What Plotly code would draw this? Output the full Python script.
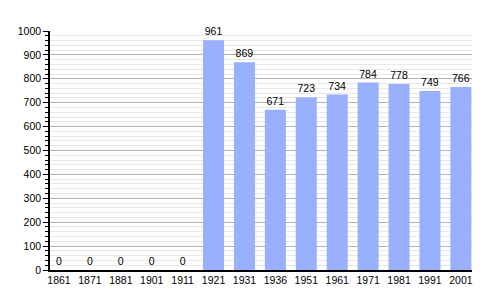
import plotly.graph_objects as go

years = ["1861", "1871", "1881", "1901", "1911", "1921", "1931", "1936",
         "1951", "1961", "1971", "1981", "1991", "2001"]
population = [0, 0, 0, 0, 0, 961, 869, 671, 723, 734, 784, 778, 749, 766]
y_ticks = list(range(0, 1001, 100))

fig = go.Figure(go.Bar(
    x=years, y=population,
    text=[str(v) for v in population],
    textposition="outside",
    textfont=dict(family="Liberation Sans, Arial", size=10.5, color="black"),
    marker=dict(color="#99b0ff", line=dict(width=0)),
    width=0.68,
    cliponaxis=False,
))

fig.update_layout(
    width=500, height=300,
    margin=dict(l=50, r=28, t=31, b=30),
    paper_bgcolor="white", plot_bgcolor="white",
    font=dict(family="Liberation Sans, Arial", size=10.5, color="black"),
    showlegend=False,
    xaxis=dict(
        type="category", range=[-0.29, 13.36],
        showline=True, linecolor="black", linewidth=1.5,
        ticks="", showgrid=False, tickfont=dict(size=10.5),
    ),
    yaxis=dict(
        range=[0, 1000], tickvals=y_ticks,
        showline=True, linecolor="black", linewidth=1.5,
        ticks="outside", ticklen=5, tickcolor="black",
        showgrid=True, gridcolor="#b4b4b4", gridwidth=1,
        zeroline=False, tickfont=dict(size=10.5),
        minor=dict(dtick=20, ticks="outside", ticklen=3, tickcolor="black",
                   showgrid=True, gridcolor="#e8e8e8", gridwidth=1),
    ),
)

fig.write_html("out.html")
